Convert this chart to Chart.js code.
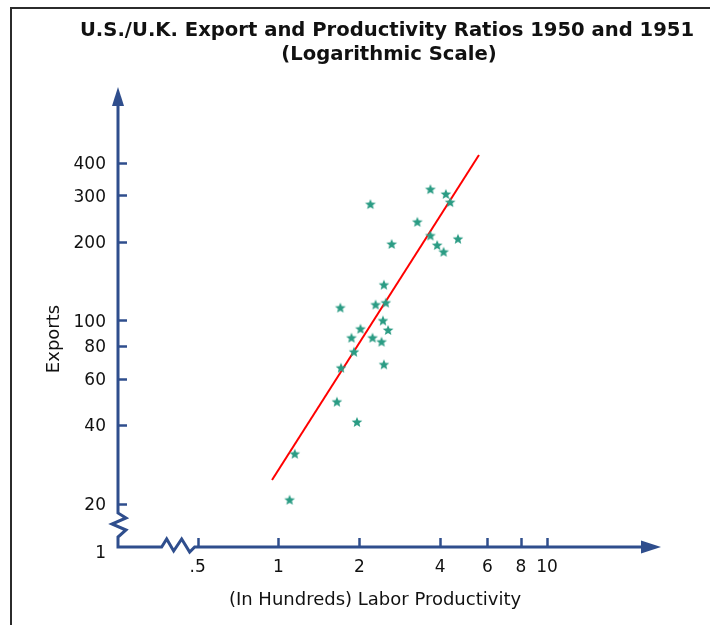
<!DOCTYPE html>
<html><head><meta charset="utf-8">
<script src="https://cdn.jsdelivr.net/npm/chart.js@4/dist/chart.umd.min.js"></script>
<style>html,body{margin:0;padding:0;background:#fff}#wrap{width:710px;height:625px;position:relative}</style>
</head><body><div id="wrap"><canvas id="c"></canvas></div>
<script>
// ---- data ----
const productivity = [3.68,4.20,4.36,2.20,3.29,3.68,4.66,2.64,3.90,4.12,2.47,1.70,2.30,2.51,2.45,2.56,2.02,1.87,2.24,2.42,1.91,1.71,2.47,1.65,1.96,1.15,1.10];
const exportsVals  = [317,304,283,278,238,211,205,196,194,183,137,112,115,117,100,92,93,86,86,83,76,66,68,49,41,31,20.7];
const fitX = [0.946, 5.58];
const fitY = [24.6, 428];
const xTickValues = [0.5,1,2,4,6,8,10];
const xTickLabels = ['.5','1','2','4','6','8','10'];
const yTickValues = [20,40,60,80,100,200,300,400];
const yTickLabels = ['20','40','60','80','100','200','300','400'];
const originLabel = '1';
const titleLines = ['U.S./U.K. Export and Productivity Ratios 1950 and 1951','(Logarithmic Scale)'];
const xTitle = '(In Hundreds) Labor Productivity';
const yTitle = 'Exports';

const AXIS = '#2f4e8d';
const STAR = '#2b9c84';
const FONT = "'DejaVu Sans', Verdana, sans-serif";

function makeStar(r, color){
  const c = document.createElement('canvas');
  const s = Math.ceil(r*2+2);
  c.width = s; c.height = s;
  const g = c.getContext('2d');
  g.fillStyle = color;
  g.beginPath();
  for (let i=0;i<10;i++){
    const rad = i%2===0 ? r : r*0.44;
    const a = -Math.PI/2 + i*Math.PI/5;
    const px = s/2 + rad*Math.cos(a), py = s/2 + 0.5 + rad*Math.sin(a);
    if(i===0) g.moveTo(px,py); else g.lineTo(px,py);
  }
  g.closePath(); g.fill();
  return c;
}
const starImg = makeStar(5.6, STAR);

const deco = {
  id:'deco',
  afterDraw(chart){
    const {ctx, chartArea:a, scales:{x,y}} = chart;
    const L = a.left, B = a.bottom, T = a.top, R = a.right;
    ctx.save();
    // frame
    ctx.strokeStyle = '#2b2b2b'; ctx.lineWidth = 2;
    ctx.beginPath(); ctx.moveTo(11, 625); ctx.lineTo(11, 8); ctx.lineTo(710, 8); ctx.stroke();

    ctx.strokeStyle = AXIS; ctx.fillStyle = AXIS; ctx.lineWidth = 3; ctx.lineJoin='miter';
    // y axis with break
    ctx.beginPath();
    ctx.moveTo(L, T+16);
    ctx.lineTo(L, B-34);
    ctx.lineTo(L+8, B-29);
    ctx.lineTo(L-6, B-23);
    ctx.lineTo(L+8, B-17);
    ctx.lineTo(L, B-10);
    ctx.lineTo(L, B);
    // x axis with break
    const x05 = x.getPixelForValue(0.5);
    ctx.lineTo(x05-36, B);
    ctx.lineTo(x05-31, B-8);
    ctx.lineTo(x05-24, B+4);
    ctx.lineTo(x05-16, B-8);
    ctx.lineTo(x05-8, B+5);
    ctx.lineTo(x05-3, B);
    ctx.lineTo(R-16, B);
    ctx.stroke();
    // arrowheads
    ctx.beginPath(); ctx.moveTo(L, T); ctx.lineTo(L-6, T+19); ctx.lineTo(L+6, T+19); ctx.closePath(); ctx.fill();
    ctx.beginPath(); ctx.moveTo(R+1, B); ctx.lineTo(R-19, B-6.5); ctx.lineTo(R-19, B+6.5); ctx.closePath(); ctx.fill();
    // ticks
    ctx.lineWidth = 2.5;
    yTickValues.forEach(v=>{ const p = Math.round(y.getPixelForValue(v))+0.5; ctx.beginPath(); ctx.moveTo(L, p); ctx.lineTo(L+9, p); ctx.stroke(); });
    xTickValues.forEach(v=>{ const p = Math.round(x.getPixelForValue(v))+0.5; ctx.beginPath(); ctx.moveTo(p, B); ctx.lineTo(p, B-9); ctx.stroke(); });

    // texts
    ctx.fillStyle = '#111';
    ctx.textAlign = 'right'; ctx.textBaseline = 'middle';
    ctx.font = '17px ' + FONT;
    ctx.fillText(originLabel, L-12, B+7);
    ctx.textAlign = 'center';
    ctx.font = '18px ' + FONT;
    ctx.fillText(xTitle, 375, 600);
    ctx.save(); ctx.translate(54, 339); ctx.rotate(-Math.PI/2); ctx.fillText(yTitle, 0, 0); ctx.restore();
    ctx.font = 'bold 19.6px ' + FONT;
    ctx.fillText(titleLines[0], 387, 31);
    ctx.fillText(titleLines[1], 389, 55);
    ctx.restore();
  }
};

new Chart(document.getElementById('c'), {
  type: 'scatter',
  data: {
    datasets: [
      { type:'line', data: fitX.map((v,i)=>({x:v, y:fitY[i]})), borderColor:'#ff0000', borderWidth:2, pointRadius:0, fill:false, order:2 },
      { type:'scatter', data: productivity.map((v,i)=>({x:v, y:exportsVals[i]})), pointStyle: starImg, pointRadius:5, order:1 }
    ]
  },
  options: {
    responsive:true, maintainAspectRatio:false, animation:false,
    layout:{ padding:{ left:0, right:50, top:87, bottom:38 } },
    plugins:{ legend:{display:false}, tooltip:{enabled:false}, title:{display:false} },
    scales:{
      x:{ type:'logarithmic', min:0.2525, max:26.36,
          grid:{display:false, drawTicks:false}, border:{display:false},
          afterBuildTicks(s){ s.ticks = xTickValues.map(v=>({value:v})); },
          afterFit(s){ s.height = 40; },
          ticks:{ autoSkip:false, maxRotation:0, padding:10, color:'#111', font:{family:FONT, size:17},
                  callback:(v,i)=>xTickLabels[i] } },
      y:{ type:'logarithmic', min:13.66, max:778,
          grid:{display:false, drawTicks:false}, border:{display:false},
          afterBuildTicks(s){ s.ticks = yTickValues.map(v=>({value:v})); },
          afterFit(s){ s.width = 118; },
          ticks:{ autoSkip:false, padding:12, labelOffset:2, color:'#111', font:{family:FONT, size:17},
                  callback:(v,i)=>yTickLabels[i] } }
    }
  },
  plugins:[deco]
});
</script></body></html>
